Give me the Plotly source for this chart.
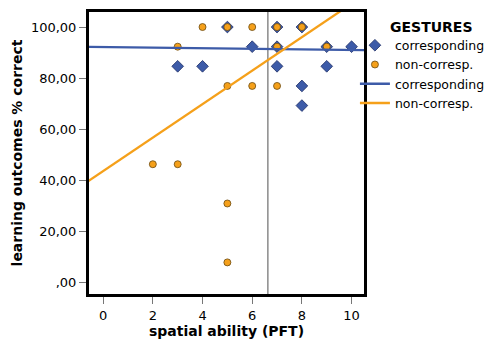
import plotly.graph_objects as go

# corresponding gestures (blue diamonds)
corr_x = [3, 4, 5, 6, 7, 7, 7, 8, 8, 8, 9, 9, 10]
corr_y = [84.6, 84.6, 100, 92.3, 100, 92.3, 84.6, 100, 76.9, 69.2, 92.3, 84.6, 92.3]

# non-corresponding gestures (orange circles)
non_x = [2, 3, 3, 4, 5, 5, 5, 5, 6, 6, 7, 7, 7, 8, 9]
non_y = [46.2, 46.2, 92.3, 100, 100, 76.9, 30.8, 7.7, 100, 76.9, 100, 92.3, 76.9, 100, 92.3]

# fit lines (endpoints)
fit_x = [-0.6, 10.6]
corr_fit_y = [92.2, 90.9]
non_fit_y = [39.6, 113.1]

mean_pft = 6.63

x_ticks = [0, 2, 4, 6, 8, 10]
y_ticks = [0, 20, 40, 60, 80, 100]
y_ticklabels = [",00", "20,00", "40,00", "60,00", "80,00", "100,00"]

BLUE = "#3d5ba8"
ORANGE = "#f5a01a"
FONT = "DejaVu Sans"

fig = go.Figure()
fig.add_trace(go.Scatter(
    x=corr_x, y=corr_y, mode="markers", name="corresponding",
    marker=dict(symbol="diamond", size=9, color=BLUE, line=dict(color="#1e2f66", width=0.8)),
))
fig.add_trace(go.Scatter(
    x=non_x, y=non_y, mode="markers", name="non-corresp.",
    marker=dict(symbol="circle", size=7, color=ORANGE, line=dict(color="#6b4a10", width=0.8)),
))
fig.add_trace(go.Scatter(
    x=fit_x, y=corr_fit_y, mode="lines", name="corresponding",
    line=dict(color=BLUE, width=2.3),
))
fig.add_trace(go.Scatter(
    x=fit_x, y=non_fit_y, mode="lines", name="non-corresp.",
    line=dict(color=ORANGE, width=2.3),
))

fig.add_shape(type="line", xref="x", yref="paper", x0=mean_pft, x1=mean_pft, y0=0, y1=1,
              line=dict(color="#8a8a8a", width=1.5), layer="below")

fig.add_annotation(text="<b>GESTURES</b>", xref="paper", yref="paper", x=1.087, y=0.947,
                   xanchor="left", yanchor="middle", showarrow=False, font=dict(size=14))

# the page body adds an 8px offset, so the figure is 8px smaller than the window
fig.update_layout(
    width=484, height=337,
    margin=dict(l=81, r=128, t=4, b=51, autoexpand=False),
    paper_bgcolor="white", plot_bgcolor="white",
    font=dict(family=FONT, size=12, color="black"),
    showlegend=True,
    legend=dict(
        x=0.967, y=0.934, xanchor="left", yanchor="top",
        font=dict(size=12.5), tracegroupgap=0, itemwidth=30,
        bgcolor="rgba(0,0,0,0)",
    ),
    xaxis=dict(
        range=[-0.57, 10.5], tickvals=x_ticks, ticks="outside", ticklen=7, tickcolor="#777",
        showgrid=False, zeroline=False, showline=True, linecolor="black", linewidth=3,
        mirror=True, tickfont=dict(size=13), automargin=False,
        title=dict(text="<b>spatial ability (PFT)</b>", font=dict(size=14), standoff=4),
    ),
    yaxis=dict(
        range=[-4.7, 105.9], tickvals=y_ticks, ticktext=y_ticklabels, ticks="outside", ticklen=7,
        tickcolor="#777", showgrid=False, zeroline=False, showline=True, linecolor="black",
        linewidth=3, mirror=True, tickfont=dict(size=13), automargin=False,
        title=dict(text="<b>learning outcomes % correct</b>", font=dict(size=14), standoff=6),
    ),
)

fig.write_html("out.html")
